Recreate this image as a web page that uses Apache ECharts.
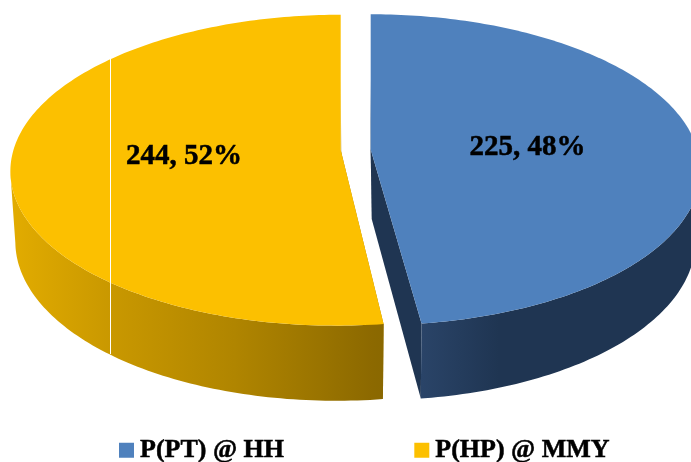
<!DOCTYPE html>
<html lang="en">
<head>
    <meta charset="utf-8">
    <title>P(PT) @ HH vs P(HP) @ MMY</title>
    <style>
        html, body { margin: 0; padding: 0; background: #fff; }
        #main { width: 691px; height: 462px; overflow: hidden; }
    </style>
</head>
<body>
<div id="main"></div>
<script src="https://cdn.jsdelivr.net/npm/echarts@6/dist/echarts.min.js"></script>
<script>
var sliceNames = ['P(PT) @ HH', 'P(HP) @ MMY'];
var sliceValues = [225, 244];

var total = sliceValues[0] + sliceValues[1];
var FONT = '"Liberation Serif", serif';

// look of the tilted disc: apex = where the slice tip lands on screen
var disc = { rx: 325, ry: 152.8, persp: 0.13, depth: 69.5, depthPersp: 0.075, taper: 0.985, labelAt: 0.48 };
var look = [
    {
        apex: [370.7, 149.5],
        lean: 3.5,
        labelShift: [1, 1],
        top: '#4f81bd',
        cut: '#1f3552',
        wall: [[0, '#2a4468'], [0.28, '#1f3552'], [1, '#1f3552']]
    },
    {
        apex: [340.7, 150],
        lean: -4.5,
        labelShift: [-1, 0],
        top: '#fcc000',
        cut: '#a98000',
        wall: [[0, '#e2ac00'], [0.27, '#c99800'], [0.6, '#b08500'], [0.97, '#8c6900'], [1, '#8a6800']]
    }
];

function rimPoint(idx, deg, down) {
    var a = deg * Math.PI / 180;
    var u = Math.sin(a), v = -Math.cos(a);
    var w = 1 - disc.persp * v;
    var x = disc.rx * u / w + look[idx].lean * (v + 1) / 2;
    var y = look[idx].apex[1] + disc.ry * v / w;
    if (down) {
        x *= disc.taper;
        y += disc.depth / (1 - disc.depthPersp * v);
    }
    return [look[idx].apex[0] + x, y];
}

function sliceItem(idx) {
    return function (params, api) {
        var start = 0;
        for (var i = 0; i < idx; i++) {
            start += sliceValues[i] / total * 360;
        }
        var end = start + api.value(0) / total * 360;
        var apex = look[idx].apex;
        var rimTop = [], rimDown = [], wallTop = [], wallDown = [];
        for (var d = start; d <= end; d += 1) {
            var deg = end - d < 1 ? end : d;
            var t = rimPoint(idx, deg, false), b = rimPoint(idx, deg, true);
            rimTop.push(t);
            rimDown.push(b);
            // only the front of the rim shows a wall, up to the widest point
            if (-Math.cos(deg * Math.PI / 180) >= disc.persp) {
                wallTop.push(t);
                wallDown.push(b);
            }
        }

        var apexDown = [apex[0] + 1, apex[1] + disc.depth];
        var last = rimTop.length - 1;
        var mid = (start + end) / 2 * Math.PI / 180;
        var lu = Math.sin(mid), lv = -Math.cos(mid);
        var pct = Math.round(api.value(0) / total * 100);

        return {
            type: 'group',
            children: [
                {
                    type: 'polygon',
                    shape: { points: [apex, rimTop[0], rimDown[0], apexDown] },
                    style: { fill: look[idx].cut }
                },
                {
                    type: 'polygon',
                    shape: { points: [apex, rimTop[last], rimDown[last], apexDown] },
                    style: { fill: look[idx].cut }
                },
                {
                    type: 'polygon',
                    shape: { points: wallTop.concat(wallDown.slice().reverse()) },
                    style: {
                        fill: new echarts.graphic.LinearGradient(0, 0, 1, 0,
                            look[idx].wall.map(function (s) { return { offset: s[0], color: s[1] }; }))
                    }
                },
                {
                    type: 'polygon',
                    shape: { points: [apex].concat(rimTop) },
                    style: { fill: look[idx].top }
                },
                {
                    type: 'text',
                    style: {
                        x: apex[0] + disc.rx * disc.labelAt * lu + look[idx].labelShift[0],
                        y: apex[1] + disc.ry * disc.labelAt * lv + 2 + look[idx].labelShift[1],
                        text: api.value(0) + ', ' + pct + '%',
                        fill: '#000',
                        stroke: '#000',
                        lineWidth: 0.5,
                        font: 'bold 29px ' + FONT,
                        align: 'center',
                        verticalAlign: 'middle'
                    }
                }
            ]
        };
    };
}

var chart = echarts.init(document.getElementById('main'), null, { renderer: 'canvas' });
chart.setOption({
    animation: false,
    legend: {
        left: 114,
        top: 432,
        itemWidth: 15,
        itemHeight: 15,
        itemGap: 130,
        icon: 'rect',
        data: sliceNames,
        textStyle: {
            color: '#000',
            fontFamily: FONT,
            fontWeight: 'bold',
            fontSize: 26,
            textBorderColor: '#000',
            textBorderWidth: 0.5,
            padding: [0, 0, 0, 1]
        }
    },
    // the stray white rule that runs across the gold slice in the source image
    graphic: [{
        type: 'line',
        z: 100,
        shape: { x1: 110.5, y1: 59, x2: 110.5, y2: 354 },
        style: { stroke: '#fff', lineWidth: 1 }
    }],
    series: [
        {
            name: sliceNames[1],
            type: 'custom',
            coordinateSystem: 'none',
            itemStyle: { color: look[1].top },
            renderItem: sliceItem(1),
            data: [[sliceValues[1]]]
        },
        {
            name: sliceNames[0],
            type: 'custom',
            coordinateSystem: 'none',
            itemStyle: { color: look[0].top },
            renderItem: sliceItem(0),
            data: [[sliceValues[0]]]
        }
    ]
});
</script>
</body>
</html>
